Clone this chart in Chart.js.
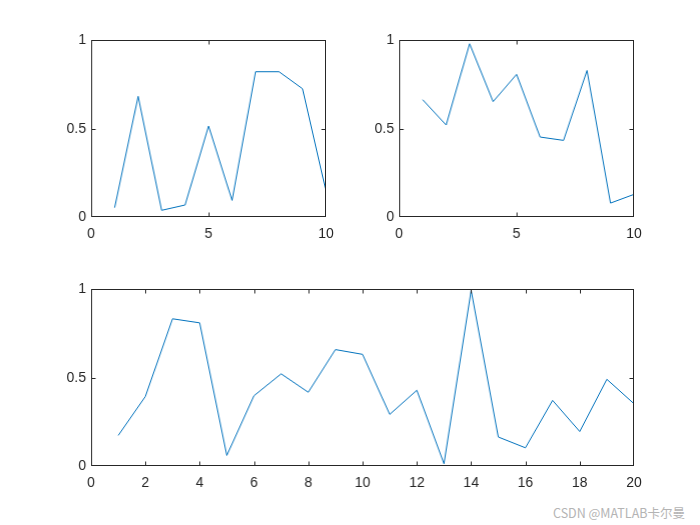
<!DOCTYPE html>
<html>
<head>
<meta charset="utf-8">
<script src="https://cdn.jsdelivr.net/npm/chart.js@4.4.0/dist/chart.umd.min.js"></script>
<style>
  body { margin: 0; background: #fff; width: 700px; height: 525px; position: relative; overflow: hidden; }
  .box { position: absolute; }
  #mark { position: absolute; left: 553px; top: 503px; font: 12.5px "Noto Sans CJK SC", "DejaVu Sans", sans-serif; color: #b4b4b4; white-space: nowrap; }
</style>
</head>
<body>
<div class="box" id="b1"><canvas id="c1"></canvas></div>
<div class="box" id="b2"><canvas id="c2"></canvas></div>
<div class="box" id="b3"><canvas id="c3"></canvas></div>
<div id="mark">CSDN @MATLAB卡尔曼</div>
<script>
// data
let x10 = [1, 2, 3, 4, 5, 6, 7, 8, 9, 10];
let y1 = [0.055, 0.684, 0.04, 0.07, 0.516, 0.096, 0.823, 0.823, 0.727, 0.149];
let y2 = [0.665, 0.522, 0.981, 0.654, 0.808, 0.454, 0.435, 0.83, 0.081, 0.13];
let x20 = [1, 2, 3, 4, 5, 6, 7, 8, 9, 10, 11, 12, 13, 14, 15, 16, 17, 18, 19, 20];
let y3 = [0.175, 0.395, 0.834, 0.811, 0.062, 0.399, 0.523, 0.419, 0.66, 0.633,
          0.294, 0.43, 0.015, 0.995, 0.166, 0.105, 0.373, 0.197, 0.492, 0.354];
let yTicks = [0, 0.5, 1];

const LEFT = 50, BOTTOM = 30, PAD = 20;

// frame + inward tick marks, matlab style
const frame = {
  id: 'frame',
  afterDraw(chart) {
    let a = chart.chartArea, ctx = chart.ctx;
    let xs = chart.scales.x, ys = chart.scales.y;
    let l = Math.round(a.left) + 0.5, r = Math.round(a.right) - 0.5;
    let t = Math.round(a.top) + 0.5, b = Math.round(a.bottom) - 0.5;
    ctx.save();
    ctx.strokeStyle = '#262626';
    ctx.lineWidth = 1;
    ctx.strokeRect(l, t, r - l, b - t);
    ctx.beginPath();
    xs.ticks.forEach(tk => {
      let px = Math.min(Math.max(Math.round(xs.getPixelForValue(tk.value)) + 0.5, l), r);
      ctx.moveTo(px, b); ctx.lineTo(px, b - 4);
      ctx.moveTo(px, t); ctx.lineTo(px, t + 4);
    });
    ys.ticks.forEach(tk => {
      let py = Math.min(Math.max(Math.round(ys.getPixelForValue(tk.value)) + 0.5, t), b);
      ctx.moveTo(l, py); ctx.lineTo(l + 4, py);
      ctx.moveTo(r, py); ctx.lineTo(r - 4, py);
    });
    ctx.stroke();
    ctx.restore();
  }
};

function makeChart(id, boxId, ax, ay, aw, ah, xs, ys, xmax, xstep) {
  let box = document.getElementById(boxId);
  let w = LEFT + aw + PAD, h = PAD + ah + BOTTOM;
  box.style.left = (ax - LEFT) + 'px';
  box.style.top = (ay - PAD) + 'px';
  box.style.width = w + 'px';
  box.style.height = h + 'px';
  let pts = xs.map((x, i) => ({ x: x, y: ys[i] }));
  let chart = new Chart(document.getElementById(id), {
    type: 'line',
    data: {
      datasets: [{
        data: pts,
        borderColor: '#0072BD',
        borderWidth: 1,
        pointRadius: 0,
        tension: 0,
        fill: false
      }]
    },
    options: {
      responsive: true,
      maintainAspectRatio: false,
      animation: false,
      plugins: { legend: { display: false }, tooltip: { enabled: false } },
      scales: {
        x: {
          type: 'linear', min: 0, max: xmax,
          grid: { display: false, drawTicks: false },
          border: { display: false },
          ticks: { stepSize: xstep, padding: 8, color: '#262626', font: { family: 'Liberation Sans', size: 14 } },
          afterFit: s => { s.height = BOTTOM; }
        },
        y: {
          type: 'linear', min: 0, max: 1,
          afterBuildTicks: s => { s.ticks = yTicks.map(v => ({ value: v })); },
          grid: { display: false, drawTicks: false },
          border: { display: false },
          ticks: { padding: 5, color: '#262626', font: { family: 'Liberation Sans', size: 14 },
                   callback: v => String(v) },
          afterFit: s => { s.width = LEFT; }
        }
      }
    },
    plugins: [frame]
  });
  // chart.js pads for label overhang; move/resize the box so the plot area lands where it should
  let a = chart.chartArea;
  box.style.left = (ax - a.left) + 'px';
  box.style.top = (ay - a.top) + 'px';
  box.style.width = (w + aw - (a.right - a.left)) + 'px';
  box.style.height = (h + ah - (a.bottom - a.top)) + 'px';
  chart.resize();
  return chart;
}

makeChart('c1', 'b1', 91, 40, 234, 177, x10, y1, 10, 5);
makeChart('c2', 'b2', 399, 40, 234, 177, x10, y2, 10, 5);
makeChart('c3', 'b3', 91, 289, 542, 177, x20, y3, 20, 2);
</script>
</body>
</html>
